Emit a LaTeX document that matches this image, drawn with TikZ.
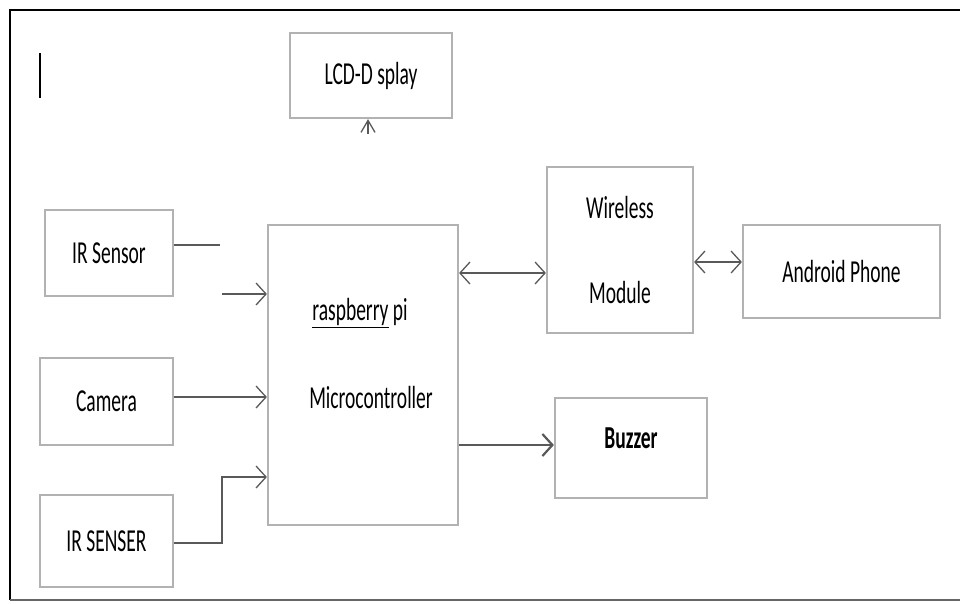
\documentclass[tikz,border=0pt]{standalone}
\usepackage{fontspec}
\setmainfont[FakeStretch=0.61]{Carlito}
\usetikzlibrary{arrows.meta,positioning}

\begin{document}
\begin{tikzpicture}[x=1pt,y=-1pt,
  font=\fontsize{32}{38}\selectfont,
  >={Straight Barb[length=10pt,width=22pt]},
  block/.style={draw=gray!60,line width=2.2pt,fill=white,rectangle,inner sep=0pt},
  wire/.style={draw=black!65,line width=1.3pt}]
  \useasboundingbox (0,0) rectangle (960,603);
  % frame
  \draw[line width=2.5pt] (10,600) -- (10,10) -- (960,10);
  \draw[line width=1.5pt,black!60] (10,600) -- (960,600);
  \draw[line width=1.8pt] (40,53) -- (40,98);
  % blocks
  \node (lcd) [block,minimum width=162,minimum height=85] at (371,75.5) {LCD-D splay};
  \node (irs) [block,minimum width=128,minimum height=86] at (109,253) {IR Sensor};
  \node (cam) [block,minimum width=133,minimum height=87] at (106.5,401.5) {Camera};
  \node (irx) [block,minimum width=133,minimum height=92] at (106.5,541) {IR SENSER};
  \node (mcu) [block,minimum width=190,minimum height=300] at (363,375) {};
  \node (rpi) at (360,313) {\underline{raspberry} pi};
  \node (mcutxt) at (371,397) {Microcontroller};
  \node (wrl) [block,minimum width=146,minimum height=166,align=center] at (620,250) {Wireless\\[47pt]Module};
  \node (andr) [block,minimum width=197,minimum height=93] at (841.5,271.5) {Android Phone};
  \node (buz) [block,minimum width=152,minimum height=100] at (631,448) {};
  \node (buztxt) at (631,438) {\bfseries Buzzer};
  % connectors
  \coordinate (irsgap) at (220,245);
  \coordinate (irsin) at (222,294);
  \coordinate (camin) at (0,397);
  \coordinate (irxbend) at (222,477);
  \coordinate (lcdtip) at (368,134);
  \draw[wire] (irs.east |- irsgap) -- (irsgap);
  \draw[wire,->] (irsin) -- (mcu.west |- irsin);
  \draw[wire,->] (cam.east |- camin) -- (mcu.west |- camin);
  \draw[wire,->] (irx.east |- 0,543) -| (irxbend) -- (mcu.west |- irxbend);
  \draw[wire,<->] (mcu.east |- 0,273) -- (wrl.west |- 0,273);
  \draw[wire,<->] (wrl.east |- 0,262) -- (andr.west |- 0,262);
  \draw[wire,->,line width=2.2pt] (mcu.east |- 0,445) -- (buz.west |- 0,445);
  \draw[wire,-{Straight Barb[length=12pt,width=14pt]}] (lcdtip) -- (lcd.south -| lcdtip);
\end{tikzpicture}
\end{document}
